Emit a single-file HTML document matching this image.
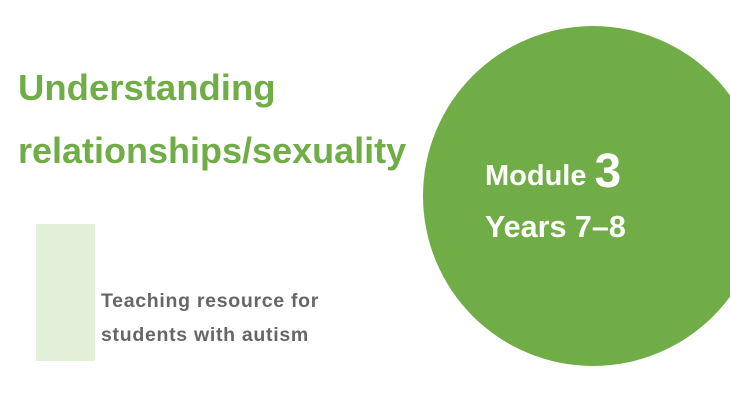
<!DOCTYPE html>
<html><head><style>
body{margin:0;width:730px;height:400px;background:#fff;position:relative;overflow:hidden;font-family:"Liberation Sans",Arial,sans-serif;font-weight:bold}
.t{position:absolute;white-space:nowrap;line-height:1}
</style></head><body>
<div style="position:absolute;left:423px;top:26px;width:340px;height:340px;border-radius:50%;background:#70ad47"></div>
<div style="position:absolute;left:36px;top:224px;width:59px;height:137px;background:#e2efd9"></div>
<div class="t" style="left:18px;top:70px;font-size:36.5px;color:#70ad47">Understanding</div>
<div class="t" style="left:18px;top:133px;font-size:36px;color:#70ad47">relationships/sexuality</div>
<div class="t" style="left:101px;top:292px;font-size:19.5px;letter-spacing:0.7px;color:#666">Teaching resource for</div>
<div class="t" style="left:101px;top:326px;font-size:19.5px;letter-spacing:0.7px;color:#666">students with autism</div>
<div class="t" style="left:485px;top:148px;font-size:29px;color:#fff">Module <span style="font-size:48px;vertical-align:-2px">3</span></div>
<div class="t" style="left:485px;top:212px;font-size:30.5px;color:#fff">Years 7–8</div>
</body></html>
